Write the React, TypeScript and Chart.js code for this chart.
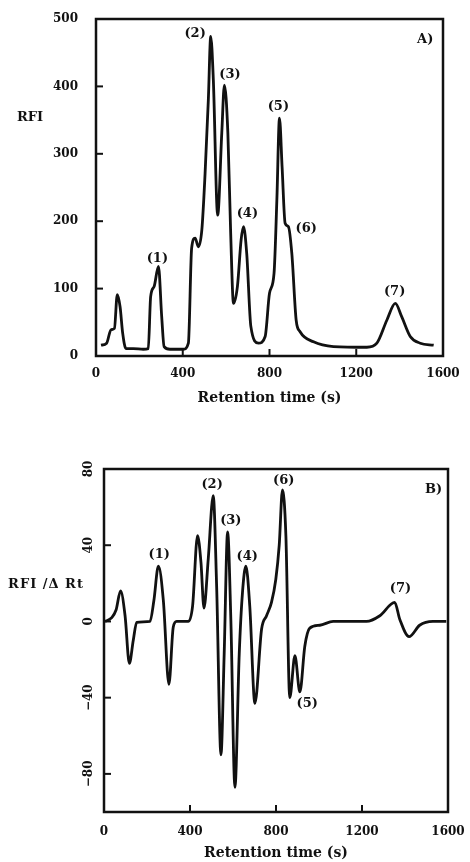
import React, { useEffect, useRef } from 'react';
import { Chart, registerables } from 'chart.js';

Chart.register(...registerables);

// ---- Panel A: chromatogram (RFI vs retention time) ----
const timeA = [23, 49, 69, 85, 98, 111, 123, 138, 172, 218, 241, 252, 268, 288, 303, 314, 341, 403, 426, 441, 457, 472, 488, 503, 518, 529, 541, 561, 580, 592, 608, 621, 634, 652, 669, 680, 695, 714, 749, 780, 800, 821, 834, 846, 858, 872, 887, 903, 923, 941, 1003, 1095, 1249, 1295, 1341, 1380, 1410, 1449, 1495, 1557];
const rfiA = [16, 19, 39, 41, 91, 73, 34, 11, 11, 10, 11, 88, 103, 133, 58, 14, 10, 10, 19, 160, 175, 162, 187, 271, 380, 474, 410, 209, 331, 402, 331, 182, 78, 103, 172, 192, 152, 44, 19, 29, 93, 123, 232, 353, 281, 197, 192, 152, 53, 36, 21, 14, 13, 19, 53, 78, 58, 29, 19, 16];

// ---- Panel B: first derivative (RFI / ΔRt) ----
const timeB = [5, 36, 56, 77, 98, 118, 136, 152, 214, 232, 253, 276, 302, 322, 338, 392, 412, 435, 451, 465, 485, 508, 524, 544, 559, 575, 590, 609, 629, 644, 660, 678, 702, 733, 756, 779, 799, 815, 830, 846, 864, 888, 911, 934, 957, 1004, 1066, 1221, 1283, 1352, 1376, 1419, 1468, 1530, 1592];
const derivB = [0, 2, 6, 16, 3, -22, -10, -0.5, 0, 11, 29, 11, -33, -3, 0, 0, 8, 45, 31, 7, 33, 66, 18, -70, -17, 47, 1, -87, -17, 15, 29, 8, -43, -4, 3, 10, 22, 40, 69, 45, -40, -18, -37, -13, -3.5, -2, 0, 0, 3, 10, 1, -8, -2, 0, 0];

// ---- Axis ticks ----
const xTicks = [0, 400, 800, 1200, 1600];
const yTicksA = [0, 100, 200, 300, 400, 500];
const yTicksB = [-80, -40, 0, 40, 80];

// ---- Peak labels (anchored in data units) ----
const peakTextA = ['(1)', '(2)', '(3)', '(4)', '(5)', '(6)', '(7)'];
const peakXA = [283, 457, 618, 698, 841, 969, 1377];
const peakYA = [145, 479, 418, 211, 370, 189, 96];

const peakTextB = ['(1)', '(2)', '(3)', '(4)', '(6)', '(5)', '(7)'];
const peakXB = [257, 503, 590, 666, 836, 945, 1379];
const peakYB = [35, 72, 53, 34, 74, -43, 17];

const FONT = "'DejaVu Serif', 'Liberation Serif', serif";
const INK = '#111111';

type PanelCfg = {
  xs: number[];
  ys: number[];
  yMin: number;
  yMax: number;
  yTicks: number[];
  peakText: string[];
  peakX: number[];
  peakY: number[];
  panel: string;
  panelX: number;
  panelY: number;
  yTitle: string;
  yTitleX: number;
  yTitleY: number;
  yTitleSpacing: string;
  width: number;
  height: number;
  padTop: number;
  padRight: number;
  yAxisWidth: number;
  xAxisHeight: number;
  xTickPad: number;
  xTitlePad: number;
  yTickPad: number;
  rotateY: boolean;
};

const fmt = (v: number) => (v < 0 ? '\u2212' + Math.abs(v) : String(v));

function makeFramePlugin(cfg: PanelCfg) {
  return {
    id: 'frame' + cfg.panel.replace(')', ''),
    afterDraw(chart: any) {
      const ctx = chart.ctx;
      const { left, right, top, bottom } = chart.chartArea;
      const xs = chart.scales.x;
      const ys = chart.scales.y;
      ctx.save();
      ctx.strokeStyle = INK;
      ctx.lineWidth = 2.5;
      ctx.strokeRect(left, top, right - left, bottom - top);
      // inward tick marks
      ctx.lineWidth = 2;
      xTicks.forEach((v) => {
        if (v <= xs.min || v >= xs.max) return;
        const p = xs.getPixelForValue(v);
        ctx.beginPath();
        ctx.moveTo(p, bottom);
        ctx.lineTo(p, bottom - 7);
        ctx.stroke();
      });
      cfg.yTicks.forEach((v) => {
        if (v <= ys.min || v >= ys.max) return;
        const p = ys.getPixelForValue(v);
        ctx.beginPath();
        ctx.moveTo(left, p);
        ctx.lineTo(left + 7, p);
        ctx.stroke();
      });
      // peak labels
      ctx.fillStyle = INK;
      ctx.font = `bold 13px ${FONT}`;
      ctx.textAlign = 'center';
      ctx.textBaseline = 'middle';
      cfg.peakText.forEach((t, i) => {
        ctx.fillText(t, xs.getPixelForValue(cfg.peakX[i]), ys.getPixelForValue(cfg.peakY[i]));
      });
      // panel label
      ctx.fillText(cfg.panel, xs.getPixelForValue(cfg.panelX), ys.getPixelForValue(cfg.panelY));
      // y title (horizontal)
      ctx.font = `bold 13px ${FONT}`;
      try {
        (ctx as any).letterSpacing = cfg.yTitleSpacing;
      } catch (e) {
        /* ignore */
      }
      ctx.fillText(cfg.yTitle, cfg.yTitleX, cfg.yTitleY);
      ctx.restore();
    },
  };
}

function Panel({ cfg }: { cfg: PanelCfg }) {
  const ref = useRef<HTMLCanvasElement | null>(null);
  useEffect(() => {
    if (!ref.current) return;
    const chart = new Chart(ref.current, {
      type: 'line',
      data: {
        datasets: [
          {
            data: cfg.xs.map((x, i) => ({ x, y: cfg.ys[i] })),
            borderColor: INK,
            borderWidth: 2.8,
            pointRadius: 0,
            fill: false,
            cubicInterpolationMode: 'monotone',
          },
        ],
      },
      options: {
        animation: false,
        responsive: false,
        maintainAspectRatio: false,
        layout: { autoPadding: false, padding: { top: cfg.padTop, right: cfg.padRight, left: 0, bottom: 0 } },
        plugins: { legend: { display: false }, tooltip: { enabled: false }, title: { display: false } },
        scales: {
          x: {
            type: 'linear',
            min: 0,
            max: 1600,
            grid: { display: false, drawTicks: false },
            border: { display: false },
            afterBuildTicks: (s: any) => {
              s.ticks = xTicks.map((v) => ({ value: v }));
            },
            afterFit: (s: any) => {
              s.height = cfg.xAxisHeight;
              s.paddingLeft = 0;
              s.paddingRight = 0;
            },
            ticks: {
              color: INK,
              padding: cfg.xTickPad,
              maxRotation: 0,
              font: { family: FONT, size: 12, weight: 'bold' },
              callback: (v: any) => fmt(Number(v)),
            },
            title: {
              display: true,
              text: 'Retention time (s)',
              color: INK,
              font: { family: FONT, size: 14, weight: 'bold' },
              padding: { top: 0, bottom: cfg.xTitlePad },
            },
          },
          y: {
            type: 'linear',
            min: cfg.yMin,
            max: cfg.yMax,
            grid: { display: false, drawTicks: false },
            border: { display: false },
            afterBuildTicks: (s: any) => {
              s.ticks = cfg.yTicks.map((v) => ({ value: v }));
            },
            afterFit: (s: any) => {
              s.width = cfg.yAxisWidth;
              s.paddingTop = 0;
              s.paddingBottom = 0;
            },
            ticks: {
              color: INK,
              padding: cfg.yTickPad,
              minRotation: cfg.rotateY ? 90 : 0,
              maxRotation: cfg.rotateY ? 90 : 0,
              crossAlign: cfg.rotateY ? 'center' : 'near',
              font: { family: FONT, size: 12, weight: 'bold' },
              callback: (v: any) => fmt(Number(v)),
            },
          },
        },
      } as any,
      plugins: [makeFramePlugin(cfg)],
    });
    return () => chart.destroy();
  }, [cfg]);
  return <canvas ref={ref} width={cfg.width} height={cfg.height} style={{ display: 'block', width: cfg.width, height: cfg.height }} />;
}

const cfgA: PanelCfg = {
  xs: timeA,
  ys: rfiA,
  yMin: 0,
  yMax: 500,
  yTicks: yTicksA,
  peakText: peakTextA,
  peakX: peakXA,
  peakY: peakYA,
  panel: 'A)',
  panelX: 1518,
  panelY: 470,
  yTitle: 'RFI',
  yTitleX: 30,
  yTitleY: 118,
  yTitleSpacing: '0px',
  width: 470,
  height: 420,
  padTop: 19,
  padRight: 27,
  yAxisWidth: 96,
  xAxisHeight: 64,
  xTickPad: 11,
  xTitlePad: 13,
  yTickPad: 18,
  rotateY: false,
};

const cfgB: PanelCfg = {
  xs: timeB,
  ys: derivB,
  yMin: -100,
  yMax: 80,
  yTicks: yTicksB,
  peakText: peakTextB,
  peakX: peakXB,
  peakY: peakYB,
  panel: 'B)',
  panelX: 1533,
  panelY: 69,
  yTitle: 'RFI /\u0394 Rt',
  yTitleX: 46,
  yTitleY: 165,
  yTitleSpacing: '1px',
  width: 470,
  height: 442,
  padTop: 49,
  padRight: 22,
  yAxisWidth: 104,
  xAxisHeight: 50,
  xTickPad: 13,
  xTitlePad: 0,
  yTickPad: 2,
  rotateY: true,
};

export default function App() {
  return (
    <div style={{ position: 'absolute', left: 0, top: 0, width: 470, height: 862, background: '#fff' }}>
      <div style={{ position: 'absolute', left: 0, top: 0 }}>
        <Panel cfg={cfgA} />
      </div>
      <div style={{ position: 'absolute', left: 0, top: 420 }}>
        <Panel cfg={cfgB} />
      </div>
    </div>
  );
}
